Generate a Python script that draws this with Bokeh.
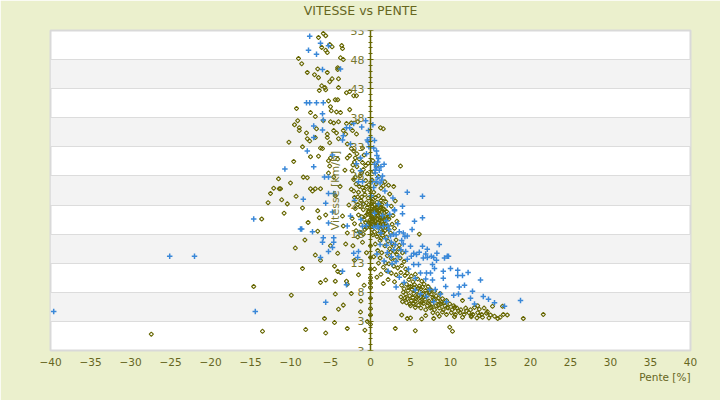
import math
from bokeh.plotting import figure
from bokeh.models import FixedTicker, Title, ColumnDataSource, Label
from bokeh.embed import file_html
from bokeh.resources import INLINE

# ---------------- data ----------------
x_ticks = list(range(-40, 41, 5))
y_ticks = list(range(-2, 54, 5))
y_minor = list(range(-2, 54, 1))
y_tick_labels = {t: str(t) for t in y_ticks}
y_tick_labels[-2] = "3"
y_tick_labels["-2"] = "3"

olive_upper = [(-6.5,51.8),(-5.6,52.1),(-5.9,52.5),(-5.1,50.6),(-4.8,50.2),(-3.6,50.4),(-3.5,49.9),(-6.1,50.1),
 (-5.6,49.6),(-5.4,49.2),(-9.0,48.2),(-8.6,47.3),(-3.75,48.3),(-3.4,48.0),(-4.1,46.6),(-4.1,46.3),(-6.6,46.4),
 (-5.4,45.8),(-7.9,45.8),(-7.0,45.4),(-6.5,44.9),(-4.8,44.7),(-4.0,44.7),(-5.1,44.2),(-6.1,43.5),(-5.7,43.2),
 (-5.6,42.8),(-6.4,42.7),(-4.0,43.2),(-3.0,42.3),(-2.6,42.5),(-2.1,41.8),(-1.75,41.8),(-5.25,40.9),(-4.4,41.1),
 (-4.1,41.1),(-9.25,39.6),(-7.5,38.9),(-5.0,39.9),(-4.9,39.2),(-4.25,39.0),(-3.75,38.9),(-2.6,39.4),(-6.9,38.2),
 (-5.9,37.5),(-5.0,37.3),(-4.6,37.1),(-4.0,37.3),(-3.0,37.0),(-2.4,37.1),(-1.6,37.3),(-8.9,36.3),(-8.9,35.8),
 (-8.0,35.4),(-6.75,36.1),(-5.4,35.2),(-5.4,34.6),(-4.6,35.8),(-4.25,35.4),(-3.4,35.8),(-3.1,35.2),(-2.25,35.8),
 (-1.75,35.2),(-7.9,34.4),(-6.9,34.6),(-7.6,34.0),(-6.25,32.8),(-6.0,32.7),(-5.1,33.7),(-4.0,34.4),(-2.9,33.5),
 (-2.4,32.7),(-2.1,32.3),(-1.0,32.8),(-7.5,31.3),(-6.5,31.4),(-5.25,30.6),(-5.0,31.1),(-4.1,30.9),(-2.9,31.1),
 (-1.9,31.1),(1.25,36.3),(1.6,36.1),(3.75,29.7),(-11.5,27.5),(-8.4,27.8),(-7.9,27.7),(-5.25,28.5),(-5.1,29.7),
 (-4.6,27.8),(-12.1,25.9),(-11.25,25.8),(-7.5,25.8),(-6.9,25.8),(-6.25,25.8),(1.6,26.3),(2.25,26.4),
 (-9.5,36.8),(-9.1,37.5),(-8.5,33.0),(-9.6,30.5),(-10.2,33.8),(-3.2,29.0),(-3.8,26.2),(-4.4,24.6)]

olive_core = [(-2.6,31.5),(-2.0,30.4),(-1.4,30.9),(-0.8,31.6),(-0.3,30.2),(-1.7,29.6),(-2.3,28.9),(-0.9,29.1),
 (-0.4,28.4),(-1.3,28.0),(-2.1,27.4),(-0.6,27.2),(-1.8,26.6),(-1.0,26.0),(-0.2,26.5),(-2.4,25.7),(-1.5,25.2),
 (-0.7,24.8),(-0.1,25.6),(-2.0,24.3),(-1.2,23.8),(-0.5,23.4),(-2.7,23.0),(-1.9,22.4),(-0.9,22.2),(-0.3,21.8),
 (-1.5,21.3),(-2.3,20.7),(-0.8,20.5),(-0.2,20.0),(-1.2,19.6),(-0.5,19.1),(-1.8,18.6),(-0.9,18.0),
 (0.3,30.6),(0.8,29.8),(0.4,28.7),(1.0,27.9),(0.2,27.3),(0.7,26.6),(1.3,25.9),(0.4,25.2),(1.0,24.6),(1.6,24.2),
 (0.3,24.0),(0.8,23.5),(1.4,23.1),(0.2,22.8),(0.6,22.3),(1.1,22.0),(1.7,21.7),(0.4,21.4),(0.9,21.1),(1.4,20.8),
 (0.2,20.6),(0.6,20.3),(1.0,20.0),(1.6,19.7),(2.1,19.4),(0.3,19.6),(0.8,19.2),(1.3,18.9),(1.8,18.6),(0.5,18.4),
 (1.0,18.1),(1.5,17.8),(2.0,17.5),(2.5,18.2),(2.3,20.6),(2.0,21.9),(2.6,22.8),(1.9,23.6),(2.4,24.9),(2.9,26.2),
 (1.8,27.0),(3.1,23.7),(2.8,21.2),(3.3,20.2),(3.0,19.0),
 (0.1,21.0),(0.5,20.8),(0.7,21.6),(1.2,21.4),(1.5,22.4),(0.9,22.6),(0.3,22.1),(1.2,20.4),(1.8,20.3),(0.7,19.7),
 (1.1,19.4),(1.5,19.1),(0.4,19.9),(1.9,21.0),(1.3,23.8),(0.6,24.3),(0.1,23.2),(-0.4,22.6),(-0.6,21.2),
 (-0.3,24.2),(-0.8,25.5),(-1.1,24.4),(0.9,21.8),(1.3,22.7),(0.5,23.0),(1.6,20.9),(0.8,20.6)]

olive_dense = [(-0.2,22.0),(0.0,21.5),(0.2,21.9),(0.4,20.6),(0.6,21.0),(0.8,22.0),(1.0,21.2),(1.2,20.8),(1.4,21.8),
 (0.3,20.2),(0.6,19.5),(0.9,19.9),(1.2,19.6),(1.4,20.2),(0.1,19.3),(-0.1,20.4),(-0.4,21.4),(-0.6,20.0),(-0.3,19.6),
 (0.7,22.6),(1.1,22.9),(0.2,23.6),(0.5,22.4),(1.7,22.3),(1.9,19.8),(2.2,20.9),(-0.9,23.2),(-1.3,22.8),(-1.6,24.4),
 (-1.4,26.2),(-1.9,27.8),(-1.1,28.6),(-0.6,29.8),(-2.2,29.9),(-1.7,31.8),(-1.0,30.3),(-0.5,26.2),(-2.1,25.4),
 (-1.6,23.1),(-0.7,18.8),(-1.3,18.3),(-2.0,19.8),(-1.1,21.0),(1.6,18.3),(2.2,18.9),(2.7,19.7),(1.3,17.3),
 (0.8,17.6),(0.3,17.9),(0.2,18.8),(2.9,16.0),(3.3,14.5),(1.9,13.0),(1.2,13.9),(2.5,14.9)]

olive_band = [(2.2,16.8),(2.7,16.3),(3.2,17.0),(3.6,16.1),(2.4,15.5),(3.0,15.0),(3.5,15.4),(4.0,14.8),(2.1,14.3),
 (2.6,13.8),(3.1,13.5),(3.7,13.9),(4.2,13.3),(2.3,12.9),(2.9,12.5),(3.4,12.2),(3.9,12.6),(4.4,12.0),(2.0,11.7),
 (2.6,11.3),(3.2,11.0),(3.8,11.4),(4.3,10.9),(1.6,12.3),(1.4,14.8),(1.8,16.0),(1.2,16.9),(0.6,16.3),(0.9,15.2),
 (0.4,14.1),(1.0,13.0),(0.5,12.0),(1.3,11.1),(2.2,10.2),(3.0,9.8),(0.8,10.6),(1.6,9.5),
 (4.6,11.3),(5.1,10.8),(5.6,11.1),(4.8,10.2),(5.3,9.8),(5.9,10.3),(6.4,9.9),(4.5,9.4),(5.0,9.0),(5.5,9.3),
 (6.1,9.1),(6.7,9.4),(7.2,9.0),(4.2,8.6),(4.7,8.3),(5.2,8.5),(5.8,8.2),(6.3,8.6),(6.9,8.3),(7.5,8.5),(8.0,8.2),
 (4.4,7.7),(4.9,7.4),(5.4,7.8),(6.0,7.5),(6.5,7.8),(7.1,7.4),(7.6,7.7),(8.2,7.4),(8.7,7.8),(4.6,6.9),(5.1,6.6),
 (5.7,6.9),(6.2,6.5),(6.8,6.8),(7.3,6.5),(7.9,6.8),(8.4,6.5),(9.0,6.9),(9.5,6.6),(5.4,6.1),(6.0,5.8),(6.6,6.1),
 (7.1,5.7),(7.7,6.0),(8.2,5.7),(8.8,6.0),(9.3,5.7),(9.9,6.0),(10.4,5.7),(6.3,5.3),(6.9,5.0),(7.5,5.3),(8.0,5.0),
 (8.6,5.3),(9.1,5.0),(9.7,5.3),(10.2,5.0),(10.8,5.3),(11.3,5.0),(7.8,4.5),(8.4,4.3),(9.0,4.6),(9.5,4.2),
 (10.1,4.5),(10.6,4.2),(11.2,4.5),(11.7,4.2),(12.3,4.5),(12.8,4.2),(13.4,4.5),(13.9,4.2),(14.5,4.4),(15.0,4.1),
 (11.9,5.3),(12.5,5.0),(13.0,5.4),(13.6,5.1),(14.2,5.3),(10.5,3.8),(11.5,3.7),(12.6,3.8),(13.3,3.6),(14.0,3.7),
 (14.8,3.6),(15.5,3.9),(16.2,3.7),(17.1,4.1),(16.6,4.2),(15.9,3.5),(19.1,3.5),(21.6,4.2),(16.5,5.6),(15.25,5.6),
 (13.4,5.7),(11.5,6.6),(9.9,2.0),(10.25,1.3),(5.6,1.4),(6.1,18.0),(3.1,1.8),
 (3.9,9.2),(4.1,8.0),(3.8,7.2),(4.3,7.0),(4.0,6.4),(4.5,6.2),(5.0,5.7),(5.6,5.4),(4.8,8.9),(5.3,7.1),(5.8,7.2),
 (6.3,7.2),(6.6,7.1),(7.0,7.9),(5.5,8.8),(6.0,8.7),(6.5,8.9),(7.4,8.0),(7.8,7.1),(8.5,7.0),(8.9,6.3),(7.2,6.2),
 (6.4,6.3),(5.6,6.4),(4.9,6.0),(7.6,5.5),(8.5,5.8),(9.2,6.2),(9.6,5.4),(10.5,5.4),(11.0,4.8),(12.0,4.8),
 (12.6,4.0),(13.6,4.0),(14.6,4.7),(4.6,3.5),(5.0,3.6),(6.9,4.0),(7.9,3.5),(6.4,3.4),(3.9,4.1),(8.6,3.9)]

olive_left = [(-11.4,25.8),(-7.25,25.4),(-11.1,23.9),(-10.4,23.2),(-8.5,22.5),(-6.6,22.0),(-6.4,20.8),(-5.6,21.3),
 (-6.6,18.5),(-3.5,21.1),(-3.4,19.4),(-2.9,18.2),(-6.9,14.4),(-6.25,13.5),(-8.5,12.1),(-4.5,12.5),(-4.1,11.6),
 (-3.75,11.4),(-6.25,9.7),(-5.6,10.1),(-4.4,9.9),(-3.0,9.9),(-2.9,9.4),(-9.9,7.5),(-3.4,5.8),(-4.0,5.1),
 (-1.25,4.6),(-5.75,3.5),(-4.5,2.8),(-2.9,1.8),(-8.1,1.6),(-5.6,1.0),(-4.4,7.7),(-4.1,14.7),(-3.1,16.3),
 (-14.6,9.0),(-27.4,0.8),(-13.5,1.3),(-13.6,20.6),(-12.5,25.0),(-10.0,26.8),(-9.3,24.5),(-12.8,23.4),
 (-10.8,21.6),(-7.8,20.0),(-8.2,17.0),(-9.4,15.6),(-5.0,16.0),(-2.0,13.5),(-1.5,11.0),(-2.4,7.8),(-1.2,6.5),
 (-0.8,9.2),(-0.5,14.8),(-1.0,16.6),(-2.2,16.0),(-1.6,17.5),(-0.4,3.0),(-0.7,1.5)]

olive_axis = [(0.0,7.0),(0.0,5.2),(0.0,4.1),(0.0,8.8),(0.0,9.6),(0.0,2.5),(0.0,10.5),(0.0,12.0),(0.0,14.0),(0.0,16.0)]

blue_left = [(-7.6,52.0),(-7.75,49.6),(-6.75,48.9),(-6.25,50.8),(-5.25,50.4),(-3.75,46.4),(-6.0,46.3),(-8.0,40.6),
 (-7.6,40.6),(-6.75,40.6),(-5.9,40.6),(-6.0,38.7),(-7.1,36.6),(-5.9,37.6),(-3.0,36.3),(-2.6,36.3),(-2.1,37.0),
 (-0.6,37.5),(-1.1,36.4),(-6.0,35.9),(-3.4,34.9),(-3.5,34.2),(-2.5,33.5),(-7.1,34.6),(-7.9,32.3),(-4.75,31.6),
 (-1.25,31.1),(-7.1,29.6),(-10.7,29.2),(-5.75,27.8),(-5.25,27.8),(-8.4,24.0),(-8.6,18.9),(-7.25,18.4),
 (-5.9,17.4),(-6.0,16.6),(-4.6,17.4),(-4.6,16.6),(-4.75,15.7),(-5.25,15.0),(-6.25,14.0),(-3.5,11.6),(-3.0,9.3),
 (-5.6,6.3),(-2.1,14.7),(-1.6,14.0),(-5.25,25.0),(-4.6,25.0),(-5.6,23.3),(-4.75,21.8),(-5.25,19.9),(-2.9,19.4),
 (-2.5,21.1),(-25.1,14.2),(-22.0,14.2),(-39.6,4.7),(-14.4,4.7),(-14.6,20.6),(-8.75,18.9),(-1.5,15.0),
 (-1.2,20.5),(-2.0,23.8),(-1.0,27.0)]

blue_axis = [(-0.25,35.8),(0.0,34.6),(-0.4,34.2),(0.4,32.8),(0.75,32.3),(0.8,31.5),(1.0,31.0),(0.5,30.0),
 (0.75,29.4),(1.5,28.0),(0.9,27.7),(0.2,27.0),(-1.25,28.9),(-1.75,30.1),(-1.5,27.0),(0.3,36.8),(-0.2,33.0),
 (0.6,29.0),(1.2,26.8),(0.4,26.0),(1.8,25.4),(0.1,24.6),(1.0,23.2),(2.1,23.0),(0.5,21.6),(1.5,21.2),(2.4,21.4),
 (3.0,22.2),(4.0,22.8),(2.8,24.2),(2.0,20.3),(3.4,19.8),(1.0,19.0),(2.3,18.8),(2.9,18.0),(3.6,18.4),(4.3,17.6),
 (1.9,17.2),(2.6,16.6),(3.9,16.9),(1.2,16.2),(2.9,15.3),(0.8,14.6),(2.1,14.8),(3.5,14.1),(1.7,13.4),(2.7,12.9),
 (5.5,20.2),(6.5,24.5),(4.6,25.2),
 (0.9,30.4),(1.3,29.6),(0.6,28.5),(1.1,29.0),(0.7,27.0),(1.4,27.3),(-1.0,19.3),(-0.5,19.5),(0.4,19.2),(0.9,19.4),
 (1.6,19.3),(2.2,19.4),(-1.4,18.3),(1.3,18.2),(2.5,17.7),(3.2,17.9),(2.0,16.1),(3.1,16.2),(3.8,15.3),(4.4,15.0),
 (5.1,14.2),(6.1,14.9),(6.9,14.6),(7.9,14.0),(8.3,14.7),(2.6,14.1),(3.2,13.3),(-0.3,33.9),(0.5,34.1),(-0.5,31.8),
 (1.7,30.0)]

blue_right = [(4.1,18.2),(4.6,17.7),(4.1,16.3),(5.0,15.9),(5.4,14.7),(5.75,14.5),(6.5,15.9),(7.1,15.4),(4.6,13.7),
 (5.4,12.8),(6.0,12.8),(6.6,13.9),(7.1,14.0),(7.6,14.2),(7.75,12.8),(8.0,12.1),(8.25,13.5),(9.25,13.9),(9.75,14.2),
 (10.0,12.1),(9.1,11.6),(10.9,11.8),(10.9,10.9),(11.5,10.9),(13.75,10.1),(6.25,11.3),(7.0,11.3),(7.5,11.3),
 (7.75,10.1),(6.9,10.3),(5.6,10.4),(4.75,12.0),(9.1,10.4),(9.4,9.0),(11.1,8.9),(11.75,9.2),(12.75,8.2),(14.1,7.3),
 (14.75,6.8),(12.5,7.0),(10.4,7.5),(11.0,7.7),(8.75,7.7),(8.1,8.5),(7.4,8.5),(7.0,7.3),(6.25,7.7),(5.6,8.4),
 (16.75,5.6),(18.75,6.6),(9.5,6.4),(7.9,6.4),(3.0,22.0),(4.0,21.5),(6.5,20.8),(9.6,14.2),(3.6,10.6),(4.2,9.7),
 (8.6,16.2),(5.2,18.8),(2.2,11.6),(3.2,8.9),(12.2,11.4),(15.5,6.2),(13.0,6.0)]

chart_title = "VITESSE vs PENTE"
x_title = "Pente [%]"
y_title = "Vitesse [km/h]"

# ---------------- styles ----------------
BG = "#EBF0CD"
OLIVE = "#666600"
TEXT = "#66661E"
LABEL = "#77772E"
BLUE = "#3A88D8"
FONT = "DejaVu Sans"

def split(pts):
    return [a for a, b in pts], [b for a, b in pts]

ox, oy = split(olive_upper + olive_core + olive_dense + olive_band + olive_left + olive_axis)
bx, by = split(blue_left + blue_axis + blue_right)

p = figure(width=720, height=400, x_range=(-40, 40), y_range=(-2, 53),
           output_backend="svg", toolbar_location=None,
           min_border_left=50, min_border_right=30, min_border_top=30, min_border_bottom=50,
           background_fill_color="white", border_fill_color=BG)

p.outline_line_color = "#d9d9d9"
p.outline_line_width = 2

# grid
p.xgrid.visible = False
p.ygrid.ticker = FixedTicker(ticks=y_ticks)
p.ygrid.grid_line_color = "#dcdcdc"
p.ygrid.grid_line_width = 1
p.ygrid.band_fill_color = "#f3f3f3"
p.ygrid.band_fill_alpha = 1.0

# x axis
xa = p.xaxis[0]
xa.ticker = FixedTicker(ticks=x_ticks)
xa.axis_line_color = None
xa.major_tick_line_color = None
xa.minor_tick_line_color = None
xa.major_label_standoff = 1
xa.major_label_text_font = FONT
xa.major_label_text_font_size = "10.5px"
xa.major_label_text_color = TEXT

p.add_layout(Title(text=x_title, align="right", text_font=FONT, text_font_size="10.5px",
                   text_font_style="normal", text_color=TEXT, standoff=1), "below")

# y axis drawn at x = 0
ya = p.yaxis[0]
ya.fixed_location = 0
ya.ticker = FixedTicker(ticks=y_ticks, minor_ticks=y_minor)
ya.major_label_overrides = y_tick_labels
ya.axis_line_color = OLIVE
ya.axis_line_width = 1.5
ya.major_tick_line_color = OLIVE
ya.major_tick_in = 3
ya.major_tick_out = 3
ya.minor_tick_line_color = OLIVE
ya.minor_tick_in = 2
ya.minor_tick_out = 2
ya.major_label_standoff = 3
ya.major_label_text_font = FONT
ya.major_label_text_font_size = "11px"
ya.major_label_text_color = LABEL
ya.axis_label = y_title
ya.axis_label_text_font = FONT
ya.axis_label_text_font_size = "11px"
ya.axis_label_text_font_style = "normal"
ya.axis_label_text_color = LABEL
ya.axis_label_standoff = 6

src_o = ColumnDataSource(dict(x=ox, y=oy))
src_b = ColumnDataSource(dict(x=bx, y=by))
p.scatter("x", "y", source=src_o, marker="square", size=3.0, angle=math.pi / 4,
          fill_color=None, line_color=OLIVE, line_width=1.1)
p.scatter("x", "y", source=src_b, marker="cross", size=5.5, line_color=BLUE, line_width=1.5)

# chart title placed in the panel above the plot area
p.add_layout(Label(x=-1.25, y=20, x_units="data", y_units="screen", text=chart_title,
                   text_align="center", text_baseline="middle", level="overlay",
                   text_font=FONT, text_font_size="12.5px", text_color=TEXT), "above")

html = file_html(p, INLINE)
html = html.replace("<body>", '<body style="margin:0;overflow:hidden;background-color:%s;">' % BG, 1)
open("out.html", "w").write(html)
